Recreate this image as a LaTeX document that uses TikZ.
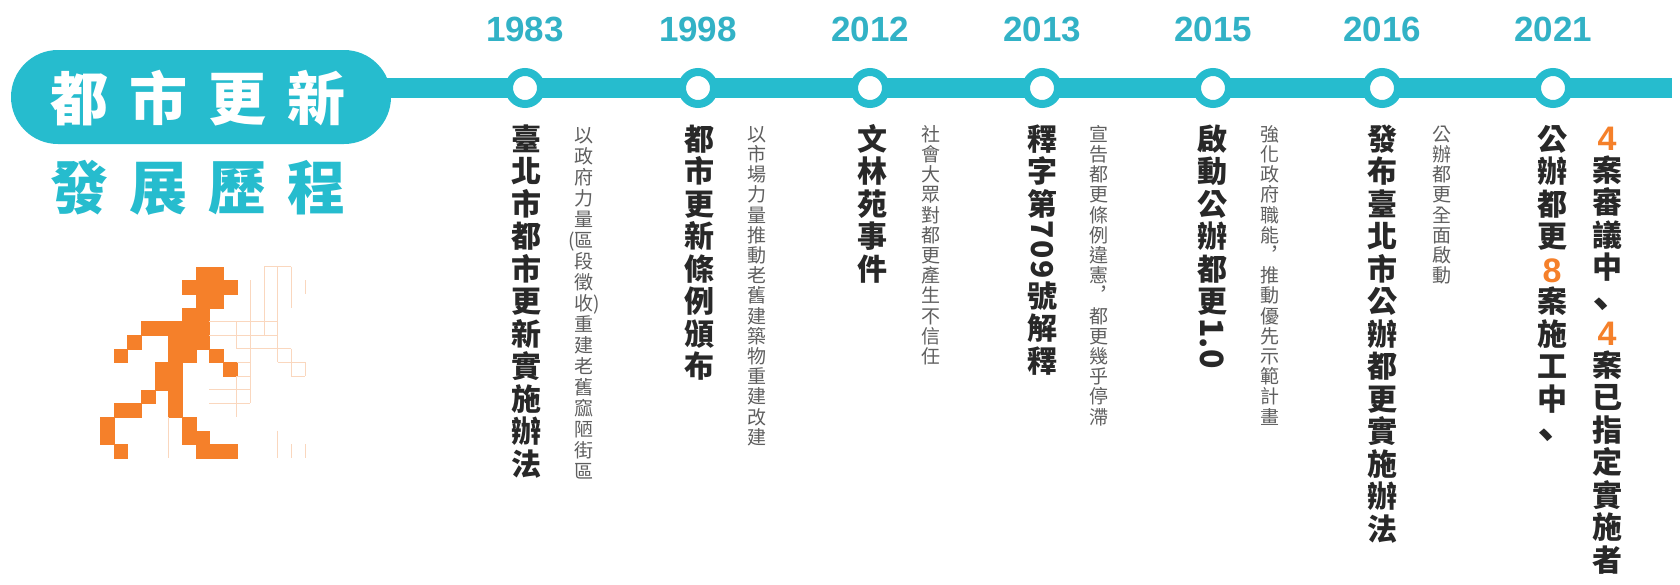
\documentclass[tikz,border=0pt]{standalone}
\usepackage{fontspec}
\usepackage{graphicx}
\setmainfont{Liberation Sans}
\newfontfamily\cjk{Noto Sans CJK TC}

\definecolor{tlteal}{RGB}{38,188,206}
\definecolor{tlyear}{RGB}{50,178,198}
\definecolor{tlorange}{RGB}{245,128,42}
\definecolor{tltitle}{RGB}{40,40,40}
\definecolor{tlsub}{RGB}{95,95,95}
\definecolor{tlfaint}{RGB}{250,215,190}

% a slot of given height with its content centred in it
\newcommand\tallslot[2]{\vbox to #1{\vss\hbox to 0pt{\hss #2\hss}\vss}}
% Latin digits turned to run down the column
\newcommand\rotnum[2]{\tallslot{#1}{\rotatebox{-90}{#2}}}
% upright orange numbers
\newcommand\orangenum[1]{\raisebox{-2pt}{\rmfamily\bfseries\fontsize{34pt}{34pt}\selectfont\color{tlorange}#1}}
% ideographic comma in a vertical column
\newcommand\vcomma{\kern-12pt\makebox[0pt]{\raisebox{-7pt}{\scalebox{1.3}{、}}}}

\ExplSyntaxOn
\dim_new:N \l_col_pitch_dim
\dim_new:N \l_col_drop_dim
\cs_new_protected:Npn \col_plain:n #1
  {
    \vbox to \l_col_pitch_dim
      {
        \vss
        \hbox to 0pt { \hss \smash{#1} \hss }
        \skip_vertical:N \l_col_drop_dim
      }
  }
\cs_new_protected:Npn \col_item:n #1
  {
    \tl_if_head_eq_meaning:nNTF {#1} \tallslot
      { #1 }
      {
        \tl_if_head_eq_meaning:nNTF {#1} \rotnum
          { #1 }
          { \col_plain:n {#1} }
      }
  }
% vertical column: pitch, baseline drop from slot bottom, characters
\NewDocumentCommand \vcol { m m m }
  {
    \vbox
      {
        \offinterlineskip
        \dim_set:Nn \l_col_pitch_dim {#1}
        \dim_set:Nn \l_col_drop_dim {#2}
        \tl_map_inline:nn {#3} { \col_item:n {##1} }
      }
  }
\ExplSyntaxOff

\tikzset{
  pill/.style={fill=tlteal, rounded corners=47pt, minimum width=380pt,
    minimum height=94pt, inner sep=0pt},
  pilltext/.style={inner sep=0pt, text=white,
    font=\cjk\bfseries\fontsize{58pt}{58pt}\selectfont},
  headtext/.style={inner sep=0pt, text=tlteal,
    font=\cjk\bfseries\fontsize{58pt}{58pt}\selectfont},
  track/.style={draw=tlteal, line width=20pt},
  stop/.style={circle, draw=tlteal, line width=8pt, fill=white,
    minimum size=32pt, inner sep=0pt},
  year/.style={inner sep=0pt, text=tlyear,
    font=\bfseries\fontsize{35pt}{35pt}\selectfont},
  col/.style={inner sep=0pt, outer sep=0pt, anchor=north},
  titlecol/.style={col, text=tltitle,
    font=\cjk\bfseries\fontsize{30pt}{30pt}\selectfont},
  subcol/.style={col, text=tlsub,
    font=\cjk\fontsize{19pt}{19pt}\selectfont},
  pixel/.style={fill=tlorange, draw=tlorange, line width=0.3pt},
  faint/.style={draw=tlfaint, line width=0.8pt}
}

\begin{document}
\begin{tikzpicture}[x=1pt, y=-1pt]
\useasboundingbox[fill=white] (0,0) rectangle (1680,584);

% heading pill
\node[pill] (pill) at (201,97) {};
\node[pilltext] (head1) at (198,98)
  {\makebox[79pt]{都}\makebox[79pt]{市}\makebox[79pt]{更}\makebox[79pt]{新}};
\node[headtext] (head2) at (198,188)
  {\makebox[79pt]{發}\makebox[79pt]{展}\makebox[79pt]{歷}\makebox[79pt]{程}};

% the time line
\coordinate (linestart) at (370,88);
\coordinate (lineend) at (1672,88);
\draw[track] (linestart) -- (lineend);

\foreach \yr/\xx in {1983/525, 1998/698, 2012/870, 2013/1042,
                     2015/1213, 2016/1382, 2021/1553} {
  \node[stop] (c\yr) at (\xx,88) {};
  \node[year] (y\yr) at (\xx,29) {\yr};
}

% 1983
\node[titlecol] (t1983) at (526,122.5)
  {\vcol{32.5pt}{4.85pt}{臺北市都市更新實施辦法}};
\node[subcol] (s1983) at (584,125)
  {\vcol{21pt}{3.6pt}{以政府力量{\llap{(}區}段徵{收\rlap{)}}重建老舊窳陋街區}};

% 1998
\node[titlecol] (t1998) at (699,122.5)
  {\vcol{32.5pt}{4.85pt}{都市更新條例頒布}};
\node[subcol] (s1998) at (757,124)
  {\vcol{20.2pt}{2.9pt}{以市場力量推動老舊建築物重建改建}};

% 2012
\node[titlecol] (t2012) at (872,122.5)
  {\vcol{32.5pt}{4.85pt}{文林苑事件}};
\node[subcol] (s2012) at (931,124)
  {\vcol{20.2pt}{2.9pt}{社會大眾對都更產生不信任}};

% 2013
\node[titlecol] (t2013) at (1042,122.5)
  {\vcol{32.5pt}{4.85pt}{釋字第{\rotnum{19.8pt}{7}}{\rotnum{19.8pt}{0}}{\rotnum{19.8pt}{9}}號解釋}};
\node[subcol] (s2013) at (1099,124)
  {\vcol{20.2pt}{2.9pt}{宣告都更條例違憲︐都更幾乎停滯}};

% 2015
\node[titlecol] (t2015) at (1212,122.5)
  {\vcol{32.5pt}{4.85pt}{啟動公辦都更{\rotnum{52pt}{\fontsize{32pt}{32pt}\selectfont 1.0}}}};
\node[subcol] (s2015) at (1270,124)
  {\vcol{20.2pt}{2.9pt}{強化政府職能︐推動優先示範計畫}};

% 2016
\node[titlecol] (t2016) at (1382,122.5)
  {\vcol{32.5pt}{4.85pt}{發布臺北市公辦都更實施辦法}};
\node[subcol] (s2016) at (1442,124)
  {\vcol{20.2pt}{2.9pt}{公辦都更全面啟動}};

% 2021
\node[titlecol] (t2021a) at (1552,122.5)
  {\vcol{32.5pt}{4.85pt}{公辦都更{\orangenum{8}}案施工中{\vcomma}}};
\node[titlecol] (t2021b) at (1607,121)
  {\vcol{32.5pt}{4.85pt}{{\orangenum{4}}案審議中{\vcomma}{\orangenum{4}}案已指定實施者}};

% pixel runner
\begin{scope}[shift={(100,266.7)}, x=13.67pt, y=-13.67pt]
  \foreach \c/\r in {7/0,8/0, 6/1,7/1,8/1,9/1, 7/2,8/2, 6/3,7/3,
      3/4,4/4,5/4,6/4,7/4, 2/5,5/5,6/5,7/5, 1/6,5/6,6/6,8/6,
      4/7,5/7,9/7, 4/8,5/8, 3/9,5/9, 1/10,2/10,5/10, 0/11,6/11,
      0/12,6/12,7/12, 1/13,7/13,8/13,9/13}
    \fill[pixel] (\c,\r) rectangle ++(1,1);
  % fading trail of grid lines
  \draw[faint] (11,1) -- (11,10)  (12,0) -- (12,5)  (13,0) -- (13,7)
    (14,0) -- (14,3)  (14,6) -- (14,8)  (15,1) -- (15,2)  (15,7) -- (15,8)
    (10,4) -- (10,6)  (10,8) -- (10,11)  (5,11) -- (5,14)
    (13,12) -- (13,14)  (14,13) -- (14,14)  (15,13) -- (15,14);
  \draw[faint] (12,0) -- (14,0)  (8,4) -- (13,4)  (8,5) -- (13,5)
    (10,6) -- (14,6)  (10,7) -- (11,7)  (13,7) -- (15,7)
    (10,8) -- (11,8)  (14,8) -- (15,8)  (8,9) -- (11,9)  (8,10) -- (11,10);
\end{scope}
\end{tikzpicture}
\end{document}
